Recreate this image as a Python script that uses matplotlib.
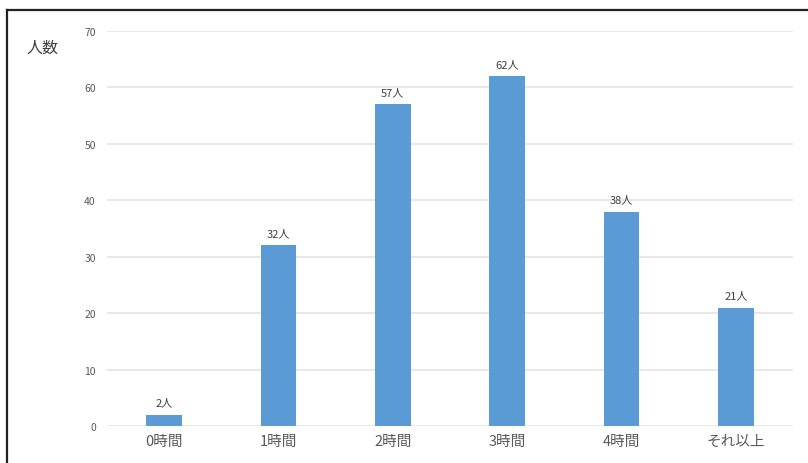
import matplotlib.pyplot as plt
from matplotlib.lines import Line2D

plt.rcParams['font.family'] = ['Noto Sans CJK JP', 'DejaVu Sans']

categories = ['0時間', '1時間', '2時間', '3時間', '4時間', 'それ以上']
counts = [2, 32, 57, 62, 38, 21]
yticks = [0, 10, 20, 30, 40, 50, 60, 70]

fig = plt.figure(figsize=(8.08, 4.64), dpi=100)
ax = fig.add_axes([107 / 808, 1 - 427 / 464, 686 / 808, 395 / 464])

x = list(range(len(categories)))
ax.bar(x, counts, width=0.31, color='#5B9BD5', zorder=3)

# labels over the bars
for xi, c in zip(x, counts):
    ax.text(xi, c + 1.3, f'{c}人', ha='center', va='bottom', fontsize=8, color='#404040')

ax.set_xlim(-0.5, len(categories) - 0.5)
ax.set_ylim(0, 70)
ax.set_yticks(yticks)
ax.set_xticks(x)
ax.set_xticklabels(categories)
ax.grid(axis='y', color='#e8e8e8', linewidth=1.4, zorder=0)
for s in ax.spines.values():
    s.set_visible(False)
ax.tick_params(axis='both', length=0, colors='#595959')
ax.tick_params(axis='y', labelsize=7.5, pad=8)
ax.tick_params(axis='x', labelsize=10.5, pad=6)

fig.text(26 / 808, 1 - 48 / 464, '人数', fontsize=11.5, color='#404040', va='center')

# frame around the chart (top and left edges visible)
fig.add_artist(Line2D([7 / 808, 1], [1 - 11 / 464, 1 - 11 / 464], color='#222222', linewidth=1.6))
fig.add_artist(Line2D([7 / 808, 7 / 808], [0, 1 - 11 / 464], color='#222222', linewidth=1.6))

fig.savefig('out.png', dpi=100)
